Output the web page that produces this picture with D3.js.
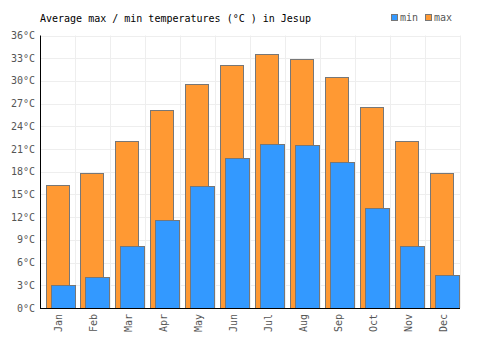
<!DOCTYPE html>
<html><head><meta charset="utf-8">
<script src="https://cdn.jsdelivr.net/npm/d3@7/dist/d3.min.js"></script>
<style>body{margin:0;background:#fff}svg{display:block}text{font-family:"DejaVu Sans Mono",monospace;font-size:10px}</style>
</head><body><svg width="500" height="350"></svg>
<script>
const months = ["Jan","Feb","Mar","Apr","May","Jun","Jul","Aug","Sep","Oct","Nov","Dec"];
const maxTemps = [16.2,17.8,22.1,26.2,29.6,32.1,33.6,32.9,30.5,26.5,22.1,17.8];
const minTemps = [3.0,4.1,8.2,11.6,16.1,19.8,21.7,21.5,19.3,13.2,8.2,4.3];
const yTicks = [0,3,6,9,12,15,18,21,24,27,30,33,36];

const svg = d3.select("svg");
const L=40.5, R=460, T=35.5, B=308;
const x = d3.scaleBand().domain(months).range([L,R]);
const y = d3.scaleLinear().domain([0,36]).range([B,T]);

// grid
svg.append("g").selectAll("line").data(yTicks).join("line")
 .attr("x1",L).attr("x2",R).attr("y1",d=>Math.round(y(d))+0.5).attr("y2",d=>Math.round(y(d))+0.5)
 .attr("stroke","#eeeeee");
svg.append("g").selectAll("line").data(months).join("line")
 .attr("x1",d=>Math.round(x(d)+x.bandwidth())+0.5).attr("x2",d=>Math.round(x(d)+x.bandwidth())+0.5)
 .attr("y1",T).attr("y2",B).attr("stroke","#eeeeee");

const bw = x.bandwidth();
// max bars
svg.append("g").selectAll("rect").data(months).join("rect")
 .attr("x",(d)=>Math.round(x(d)+5)+0.5).attr("width",Math.round(bw*0.66))
 .attr("y",(d,i)=>Math.round(y(maxTemps[i]))+0.5).attr("height",(d,i)=>B-Math.round(y(maxTemps[i])))
 .attr("fill","#ff9933").attr("stroke","#777").attr("stroke-width",1);
// min bars
svg.append("g").selectAll("rect").data(months).join("rect")
 .attr("x",(d)=>Math.round(x(d)+10)+0.5).attr("width",Math.round(bw*0.7))
 .attr("y",(d,i)=>Math.round(y(minTemps[i]))+0.5).attr("height",(d,i)=>B-Math.round(y(minTemps[i])))
 .attr("fill","#3399ff").attr("stroke","#777").attr("stroke-width",1);

// axes lines
svg.append("line").attr("x1",40.5).attr("x2",40.5).attr("y1",T).attr("y2",B+0.5).attr("stroke","#000");
svg.append("line").attr("x1",40).attr("x2",R).attr("y1",B+0.5).attr("y2",B+0.5).attr("stroke","#000");

// y labels
svg.append("g").selectAll("text").data(yTicks).join("text")
 .attr("x",35).attr("y",d=>y(d)).attr("dy","0.35em").attr("text-anchor","end")
 .attr("fill","#555").text(d=>d+"°C");
// x labels
svg.append("g").selectAll("text").data(months).join("text")
 .attr("transform",d=>`translate(${x(d)+bw/2+1},314) rotate(-90)`)
 .attr("dy","0.35em").attr("text-anchor","end").attr("fill","#555").text(d=>d);

// title
svg.append("text").attr("x",40).attr("y",22).attr("fill","#000").text("Average max / min temperatures (°C ) in Jesup");

// legend
const leg = [{k:"min",c:"#3399ff",x:391},{k:"max",c:"#ff9933",x:425}];
const lg = svg.append("g").selectAll("g").data(leg).join("g");
lg.append("rect").attr("x",d=>d.x+0.5).attr("y",14.5).attr("width",6).attr("height",6)
 .attr("fill",d=>d.c).attr("stroke","#777");
lg.append("text").attr("x",d=>d.x+9).attr("y",21).attr("fill","#555").text(d=>d.k);
</script></body></html>
